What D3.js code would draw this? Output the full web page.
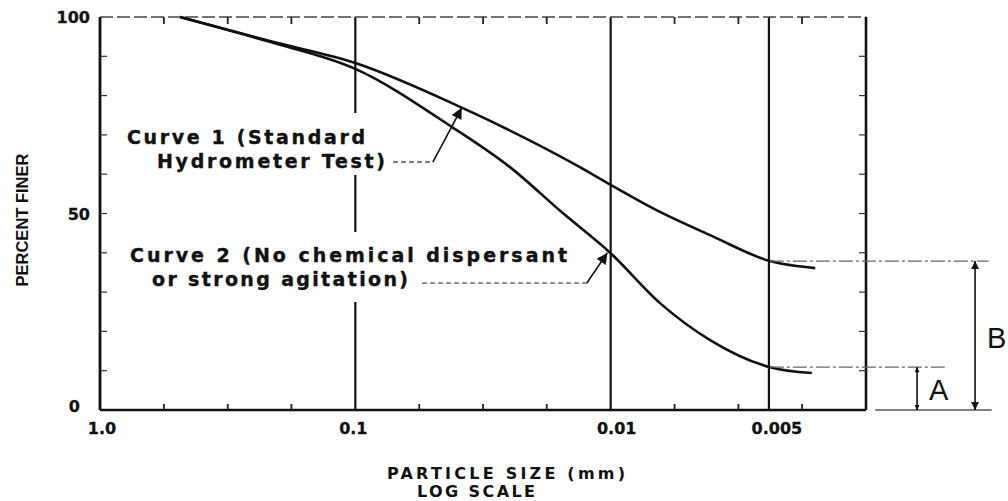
<!DOCTYPE html>
<html>
<head>
<meta charset="utf-8">
<script src="https://cdnjs.cloudflare.com/ajax/libs/d3/7.8.5/d3.min.js"></script>
<style>
html, body { margin: 0; padding: 0; background: #fff; }
svg { display: block; }
</style>
</head>
<body>
<div id="chart"></div>
<script>
// particle size (mm) vs percent finer
const sizes1 = [0.486, 0.22, 0.1, 0.0379, 0.0132, 0.01, 0.00641, 0.00408, 0.00238, 0.00158];
const finer1 = [100, 94.0, 88.3, 76.8, 61.8, 57.3, 50.4, 44.5, 37.9, 36.1];
const sizes2 = [0.486, 0.22, 0.1, 0.0418, 0.0248, 0.0154, 0.01, 0.00641, 0.00408, 0.00238, 0.00163];
const finer2 = [100, 93.8, 86.8, 72.0, 61.8, 50.1, 39.9, 27.2, 17.8, 10.9, 9.4];

const gridSizes = [0.1, 0.01, 0.0024];
const xTickSizes = [1, 0.1, 0.01, 0.0024];
const xTickLabels = ["1.0", "0.1", "0.01", "0.005"];
const minorSizes = [0.562, 0.316, 0.178, 0.0562, 0.0316, 0.0178, 0.00562, 0.00316, 0.00178];
const yMinor = [10, 20, 30, 40, 50, 60, 70, 80, 90];
const yLabels = [0, 50, 100];

const levelA = 10.9, levelB = 37.9;

const width = 1008, height = 501;
const x = d3.scaleLog().domain([1, 0.001]).range([100, 866]);
const y = d3.scaleLinear().domain([0, 100]).range([410, 17]);

const svg = d3.select("#chart").append("svg")
    .attr("width", width)
    .attr("height", height);

const defs = svg.append("defs");
function marker(id, w, h) {
    defs.append("marker")
        .attr("id", id)
        .attr("viewBox", "0 0 10 10")
        .attr("refX", 10).attr("refY", 5)
        .attr("markerUnits", "userSpaceOnUse")
        .attr("markerWidth", w).attr("markerHeight", h)
        .attr("orient", "auto-start-reverse")
      .append("path")
        .attr("d", "M0,0L10,5L0,10z")
        .attr("fill", "#111");
}
marker("big", 19, 11);
marker("mid", 15, 8);
marker("small", 9, 5);

const x0 = x(1), x1 = x(0.001), yb = y(0), yt = y(100);

// vertical lines
svg.selectAll(".grid")
    .data(gridSizes)
    .enter().append("line")
    .attr("x1", d => x(d)).attr("x2", d => x(d))
    .attr("y1", yt).attr("y2", yb)
    .attr("stroke", "#111").attr("stroke-width", 2.2);

// frame
svg.append("line").attr("x1", x0).attr("x2", x1).attr("y1", yt).attr("y2", yt)
    .attr("stroke", "#444").attr("stroke-width", 1.6).attr("stroke-dasharray", "13,4");
svg.append("line").attr("x1", x0).attr("x2", x1).attr("y1", yb).attr("y2", yb)
    .attr("stroke", "#111").attr("stroke-width", 2.4);
svg.append("line").attr("x1", x0).attr("x2", x0).attr("y1", yt).attr("y2", yb)
    .attr("stroke", "#111").attr("stroke-width", 2.8);
svg.append("line").attr("x1", x1).attr("x2", x1).attr("y1", yt).attr("y2", yb)
    .attr("stroke", "#111").attr("stroke-width", 2.6);

// minor ticks
svg.selectAll(".tb").data(minorSizes).enter().append("line")
    .attr("x1", d => x(d)).attr("x2", d => x(d))
    .attr("y1", yb).attr("y2", yb - 6)
    .attr("stroke", "#222").attr("stroke-width", 1.8);
svg.selectAll(".tt").data(minorSizes).enter().append("line")
    .attr("x1", d => x(d)).attr("x2", d => x(d))
    .attr("y1", yt).attr("y2", yt + 7)
    .attr("stroke", "#222").attr("stroke-width", 1.8);
svg.selectAll(".tl").data(yMinor).enter().append("line")
    .attr("x1", x0).attr("x2", x0 + 7)
    .attr("y1", d => y(d)).attr("y2", d => y(d))
    .attr("stroke", "#333").attr("stroke-width", 1.2);
svg.selectAll(".tr").data(yMinor).enter().append("line")
    .attr("x1", x1).attr("x2", x1 - 7)
    .attr("y1", d => y(d)).attr("y2", d => y(d))
    .attr("stroke", "#333").attr("stroke-width", 1.2);

// white boxes behind the curve labels break the 0.1 line
svg.append("rect").attr("x", 118).attr("y", 113).attr("width", 272).attr("height", 62).attr("fill", "#fff");
svg.append("rect").attr("x", 120).attr("y", 232).attr("width", 455).attr("height", 70).attr("fill", "#fff");

// curves
const line = d3.line()
    .x(d => x(d[0]))
    .y(d => y(d[1]))
    .curve(d3.curveMonotoneX);

svg.append("path")
    .datum(d3.zip(sizes1, finer1))
    .attr("d", line)
    .attr("fill", "none").attr("stroke", "#111").attr("stroke-width", 2.6);
svg.append("path")
    .datum(d3.zip(sizes2, finer2))
    .attr("d", line)
    .attr("fill", "none").attr("stroke", "#111").attr("stroke-width", 2.6);

// labels of the curves
const labelFont = "'DejaVu Sans', sans-serif";
function label(txt, px, py, len) {
    svg.append("text")
        .attr("x", px).attr("y", py)
        .attr("font-family", labelFont)
        .attr("font-weight", "bold")
        .attr("font-size", 19)
        .attr("textLength", len)
        .attr("lengthAdjust", "spacing")
        .attr("fill", "#111")
        .attr("stroke", "#111").attr("stroke-width", 0.4)
        .text(txt);
}
label("Curve 1 (Standard", 127, 144, 238);
label("Hydrometer Test)", 157, 168, 228);
label("Curve 2 (No chemical dispersant", 130, 262, 437);
label("or strong agitation)", 152, 286, 256);

// leaders
const dash = {stroke: "#555", w: 1.3, a: "5,3"};
function seg(a, b, opts) {
    return svg.append("line")
        .attr("x1", x(a[0])).attr("y1", y(a[1]))
        .attr("x2", x(b[0])).attr("y2", y(b[1]))
        .attr("stroke", opts.stroke || "#111")
        .attr("stroke-width", opts.w || 1.5)
        .attr("stroke-dasharray", opts.a || null);
}
seg([0.0712, 63.1], [0.0497, 63.1], dash);
seg([0.0497, 63.1], [0.0383, 76.9], {w: 1.6}).attr("marker-end", "url(#big)");
seg([0.0548, 32.3], [0.0124, 32.3], dash);
seg([0.0124, 32.3], [0.0103, 40.0], {w: 1.6}).attr("marker-end", "url(#big)");

// A and B dimension lines
seg([0.00238, levelB], [0.000331, levelB], {stroke: "#666", w: 1.2, a: "14,3,3,3"});
seg([0.00238, levelA], [0.000478, levelA], {stroke: "#666", w: 1.2, a: "14,3,3,3"});
seg([0.00092, 0], [0.000322, 0], {stroke: "#555", w: 1.3});
seg([0.000374, levelB], [0.000374, 0], {w: 1.6})
    .attr("marker-start", "url(#mid)").attr("marker-end", "url(#mid)");
seg([0.000631, levelA], [0.000631, 0], {w: 1.6})
    .attr("marker-start", "url(#small)").attr("marker-end", "url(#small)");

svg.append("text").attr("x", 929).attr("y", 400)
    .attr("font-family", "'Liberation Sans', sans-serif").attr("font-size", 29)
    .attr("fill", "#111").text("A");
svg.append("text").attr("x", 987).attr("y", 348)
    .attr("font-family", "'Liberation Sans', sans-serif").attr("font-size", 29)
    .attr("fill", "#111").text("B");

// tick labels
svg.selectAll(".xl").data(xTickSizes).enter().append("text")
    .attr("x", (d, i) => x(d) + [2, -2, 6, 8][i])
    .attr("y", 434)
    .attr("text-anchor", "middle")
    .attr("font-family", labelFont).attr("font-weight", "bold").attr("font-size", 16)
    .attr("stroke", "#111").attr("stroke-width", 0.3)
    .attr("fill", "#111")
    .text((d, i) => xTickLabels[i]);
svg.selectAll(".yl").data(yLabels).enter().append("text")
    .attr("x", d => d === 0 ? 80 : 90)
    .attr("y", d => y(d) + 6 - (d === 0 ? 4 : 0))
    .attr("text-anchor", "end")
    .attr("font-family", labelFont).attr("font-weight", "bold").attr("font-size", 16)
    .attr("stroke", "#111").attr("stroke-width", 0.3)
    .attr("fill", "#111")
    .text(d => d);

// axis titles
svg.append("text").attr("x", 387).attr("y", 479)
    .attr("font-family", labelFont).attr("font-weight", "bold").attr("font-size", 16)
    .attr("textLength", 238).attr("lengthAdjust", "spacing").attr("fill", "#111")
    .text("PARTICLE SIZE (mm)");
svg.append("text").attr("x", 417).attr("y", 497)
    .attr("font-family", labelFont).attr("font-weight", "bold").attr("font-size", 16)
    .attr("textLength", 118).attr("lengthAdjust", "spacing").attr("fill", "#111")
    .text("LOG SCALE");
svg.append("text")
    .attr("transform", "translate(28,220) rotate(-90)")
    .attr("text-anchor", "middle")
    .attr("font-family", "'Liberation Sans', sans-serif").attr("font-weight", "bold")
    .attr("font-size", 16.5).attr("fill", "#111")
    .text("PERCENT FINER");
</script>
</body>
</html>
